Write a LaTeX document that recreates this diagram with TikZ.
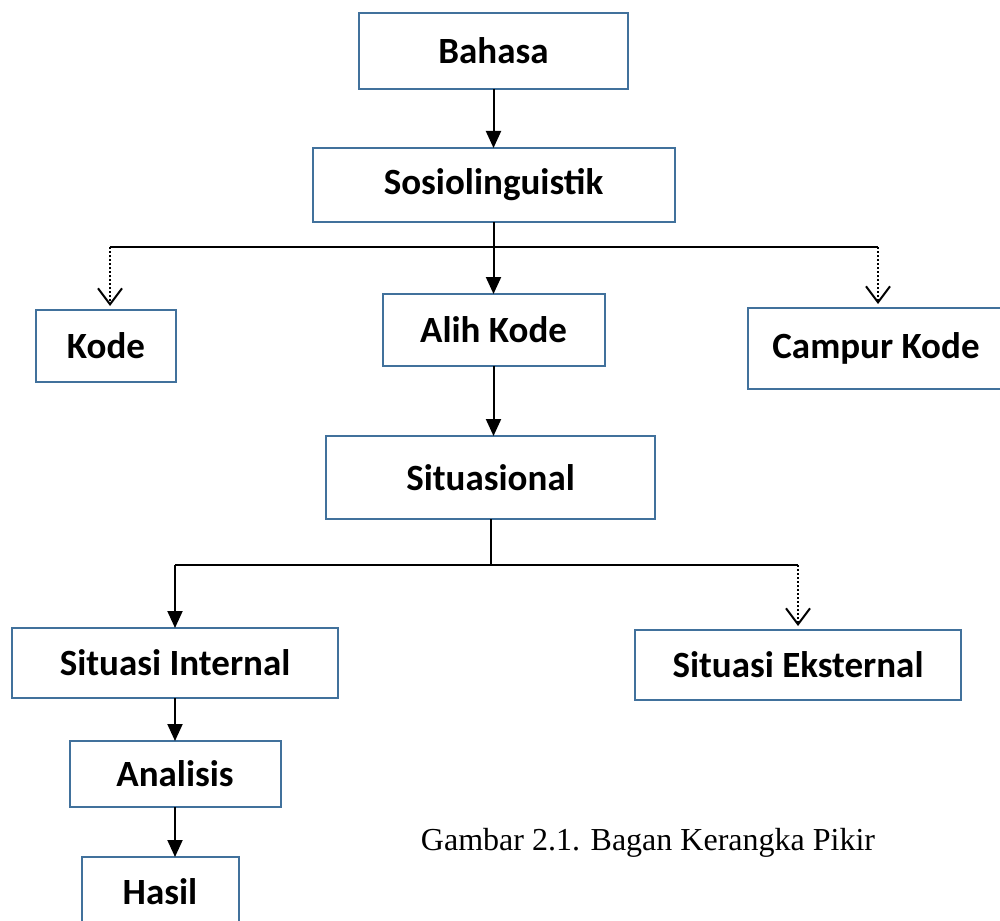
\documentclass[tikz,border=0pt]{standalone}
\usepackage{fontspec}
\setmainfont{Carlito}
\newfontfamily\capfont{Liberation Serif}
\usepackage{xcolor}
\usetikzlibrary{arrows.meta, positioning}
\definecolor{boxblue}{RGB}{65,113,156}

\begin{document}
\begin{tikzpicture}[x=1pt, y=-1pt, node distance=50pt, line width=2pt,
    font=\bfseries\fontsize{37}{40}\selectfont]
  \tikzstyle{box} = [rectangle, draw=boxblue, fill=white, inner sep=0pt, outer sep=0pt, align=center]
  \tikzstyle{arr} = [-{Triangle[length=17pt,width=15pt]}]
  \tikzstyle{dotarr} = [dotted, -{Straight Barb[length=16pt,width=24pt,line width=2pt]}, shorten >=4pt]
  \useasboundingbox (0,0) rectangle (1000,920);

  \node[box, minimum width=269pt, minimum height=76pt] (Bahasa) at (493.5,51) {Bahasa};
  \node[box, minimum width=362pt, minimum height=74pt, below=59pt of Bahasa] (Sosio) {Sosiolinguistik};
  \node[box, minimum width=222pt, minimum height=72pt, below=72pt of Sosio] (AlihKode) {Alih Kode};
  \node[box, minimum width=140pt, minimum height=72pt] (Kode) at (106,346) {Kode};
  \node[box, minimum width=256pt, minimum height=81pt] (Campur) at (876,348.5) {Campur Kode};
  \node[box, minimum width=329pt, minimum height=83pt, below=70pt of AlihKode, xshift=-3pt] (Situasional) {Situasional};
  \node[box, minimum width=326pt, minimum height=70pt] (Internal) at (175,663) {Situasi Internal};
  \node[box, minimum width=326pt, minimum height=70pt] (Eksternal) at (798,665) {Situasi Eksternal};
  \node[box, minimum width=211pt, minimum height=66pt, below=43pt of Internal] (Analisis) {Analisis};
  \node[box, minimum width=157pt, minimum height=70pt, below=50pt of Analisis, xshift=-15pt] (Hasil) {Hasil};
  \node[font=\capfont\fontsize{32}{36}\selectfont] (Caption) at (648,843) {Gambar 2.1. Bagan Kerangka Pikir};

  % branch under Sosiolinguistik
  \coordinate (KodeTop) at (110,247);
  \coordinate (CampurTop) at (878,247);
  \draw (KodeTop) -- (CampurTop);
  \draw[dotarr] (KodeTop) -- (KodeTop |- Kode.north);
  \draw[dotarr] (CampurTop) -- (CampurTop |- Campur.north);

  % branch under Situasional
  \coordinate (Split) at (Situasional.south |- 0,565);
  \coordinate (InternalTop) at (Internal.north |- Split);
  \coordinate (EksternalTop) at (Eksternal.north |- Split);
  \draw (Situasional.south) -- (Split);
  \draw (InternalTop) -- (EksternalTop);
  \draw[arr] (InternalTop) -- (Internal.north);
  \draw[dotarr] (EksternalTop) -- (Eksternal.north);

  \draw[arr] (Bahasa.south) -- (Sosio.north -| Bahasa.south);
  \draw[arr] (Sosio.south -| Bahasa.south) -- (AlihKode.north -| Bahasa.south);
  \draw[arr] (AlihKode.south) -- (Situasional.north -| AlihKode.south);
  \draw[arr] (Internal.south) -- (Analisis.north);
  \draw[arr] (Analisis.south) -- (Analisis.south |- Hasil.north);
\end{tikzpicture}
\end{document}
